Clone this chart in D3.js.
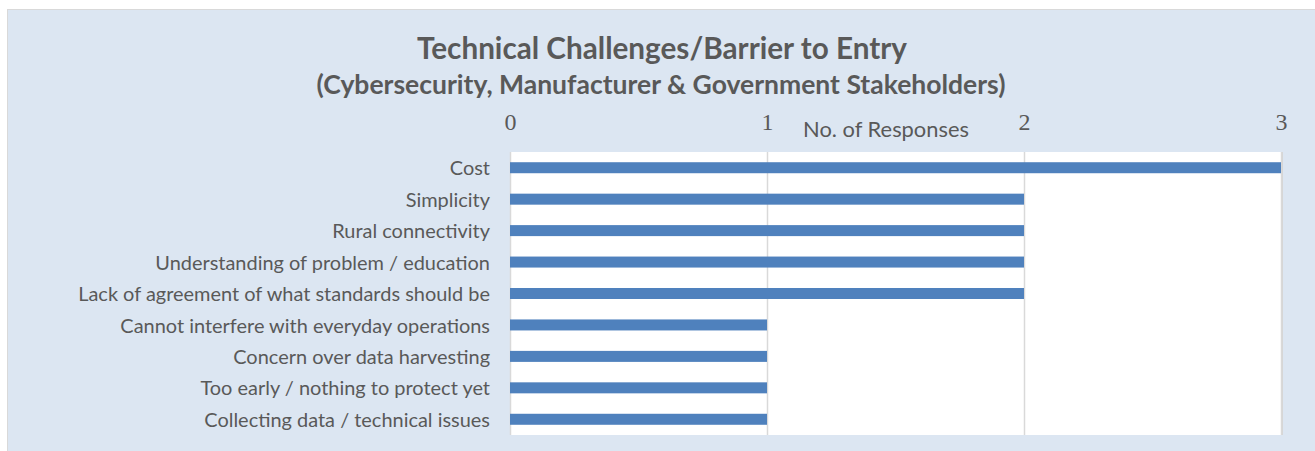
<!DOCTYPE html>
<html>
<head>
<meta charset="utf-8">
<script src="https://cdn.jsdelivr.net/npm/d3@7"></script>
<style>
    body { margin: 0; background: #fff; }
    svg { display: block; }
</style>
</head>
<body>
<script>
const categories = [
    "Cost",
    "Simplicity",
    "Rural connectivity",
    "Understanding of problem / education",
    "Lack of agreement of what standards should be",
    "Cannot interfere with everyday operations",
    "Concern over data harvesting",
    "Too early / nothing to protect yet",
    "Collecting data / technical issues"
];
const responses = [3, 2, 2, 2, 2, 1, 1, 1, 1];
const xTicks = [0, 1, 2, 3];
const titleText = "Technical Challenges/Barrier to Entry";
const subtitleText = "(Cybersecurity, Manufacturer & Government Stakeholders)";
const axisTitle = "No. of Responses";

const width = 1315;
const height = 451;
const plot = { left: 510, right: 1281, top: 152, bottom: 435 };
const textColor = "#595959";
const sans = "Lato, Carlito, Calibri, sans-serif";

// scale a text element so it spans the given width
const fitWidth = (sel, target) => {
    const node = sel.node();
    const size = parseFloat(sel.attr("font-size"));
    const w = node.getComputedTextLength();
    sel.attr("font-size", (size * target / w).toFixed(2));
};

const svg = d3.select("body").append("svg")
    .attr("width", width)
    .attr("height", height);

// chart area
svg.append("rect")
    .attr("x", 7.5)
    .attr("y", 9.5)
    .attr("width", width)
    .attr("height", height)
    .attr("fill", "#dce6f2")
    .attr("stroke", "#d9d9d9");

const x = d3.scaleLinear()
    .domain([0, 3])
    .range([plot.left, plot.right]);

const y = d3.scaleBand()
    .domain(categories)
    .range([plot.top, plot.bottom])
    .paddingInner(0.65)
    .paddingOuter(0.325);

// plot area
svg.append("rect")
    .attr("x", plot.right)
    .attr("y", plot.top)
    .attr("width", 2)
    .attr("height", plot.bottom - plot.top)
    .attr("fill", "#d4d4d4");
svg.append("rect")
    .attr("x", plot.left)
    .attr("y", plot.top)
    .attr("width", plot.right - plot.left)
    .attr("height", plot.bottom - plot.top)
    .attr("fill", "#fff");

// gridlines
svg.append("g")
    .attr("transform", `translate(0, ${plot.bottom})`)
    .call(d3.axisTop(x).tickValues(xTicks).tickSize(plot.bottom - plot.top).tickFormat(""))
    .call(g => g.select(".domain").remove())
    .call(g => g.selectAll("line").attr("stroke", "#d9d9d9").attr("stroke-width", 1.5));

// bars
svg.append("g")
    .selectAll("rect")
    .data(responses)
    .enter()
    .append("rect")
    .attr("x", x(0))
    .attr("y", (d, i) => y(categories[i]))
    .attr("width", d => x(d) - x(0))
    .attr("height", y.bandwidth())
    .attr("fill", "#4f81bd");

// top value axis
const xAxis = svg.append("g")
    .attr("transform", `translate(0, ${plot.top})`)
    .call(d3.axisTop(x).tickValues(xTicks).tickSize(0).tickPadding(22).tickFormat(d3.format("d")));
xAxis.select(".domain").remove();
xAxis.selectAll("text")
    .attr("fill", textColor)
    .attr("font-family", "'Liberation Serif', 'Times New Roman', serif")
    .attr("font-size", 24);

// category axis
const yAxis = svg.append("g")
    .attr("transform", `translate(${plot.left}, 0)`)
    .call(d3.axisLeft(y).tickSize(0).tickPadding(20));
yAxis.select(".domain").remove();
yAxis.selectAll("text")
    .attr("fill", textColor)
    .attr("font-family", sans)
    .attr("font-size", 18)
    .attr("dy", "0.38em");
const longest = yAxis.selectAll("text").filter(d => d === "Lack of agreement of what standards should be");
fitWidth(longest, 412);
yAxis.selectAll("text").attr("font-size", longest.attr("font-size"));

// titles
const title = svg.append("text")
    .attr("x", 662)
    .attr("y", 59)
    .attr("text-anchor", "middle")
    .attr("font-family", sans)
    .attr("font-weight", "bold")
    .attr("font-size", 26)
    .attr("fill", textColor)
    .text(titleText);
fitWidth(title, 490);

const subtitle = svg.append("text")
    .attr("x", 661)
    .attr("y", 94)
    .attr("text-anchor", "middle")
    .attr("font-family", sans)
    .attr("font-weight", "bold")
    .attr("font-size", 22)
    .attr("fill", textColor)
    .text(subtitleText);
fitWidth(subtitle, 689);

const xTitle = svg.append("text")
    .attr("x", 886)
    .attr("y", 137)
    .attr("text-anchor", "middle")
    .attr("font-family", sans)
    .attr("font-size", 20)
    .attr("fill", textColor)
    .text(axisTitle);
fitWidth(xTitle, 166);
</script>
</body>
</html>
